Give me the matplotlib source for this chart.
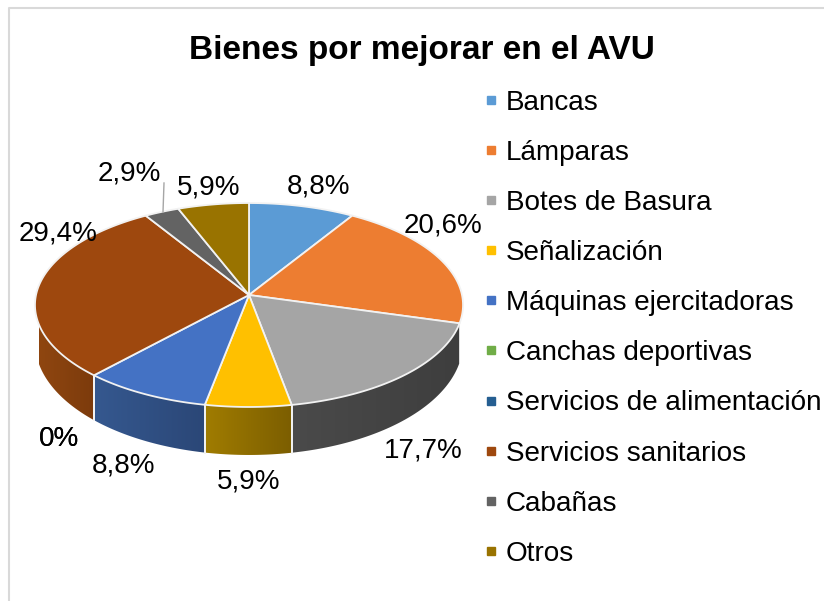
import matplotlib
matplotlib.use("Agg")
import matplotlib.pyplot as plt
import numpy as np
from matplotlib.colors import LinearSegmentedColormap
from matplotlib.lines import Line2D
from matplotlib.patches import Polygon

plt.rcParams["font.family"] = ["Liberation Sans", "DejaVu Sans"]

# Data
categories = [
    "Bancas", "Lámparas", "Botes de Basura", "Señalización",
    "Máquinas ejercitadoras", "Canchas deportivas",
    "Servicios de alimentación", "Servicios sanitarios", "Cabañas", "Otros",
]
values = [8.8, 20.6, 17.7, 5.9, 8.8, 0, 0, 29.4, 2.9, 5.9]
value_labels = ["8,8%", "20,6%", "17,7%", "5,9%", "8,8%", "0%", "0%", "29,4%", "2,9%", "5,9%"]

colors = ["#5b9bd5", "#ed7d31", "#a5a5a5", "#ffc000", "#4472c4",
          "#70ad47", "#255e91", "#9e480e", "#636363", "#997300"]
# wall shades, left and right end of each slice
side_left = ["#3f6d98", "#a85822", "#4a4a4a", "#a07c00", "#35588f",
             "#4f7a32", "#1a4266", "#8f4610", "#474747", "#6c5100"]
side_right = ["#3f6d98", "#a85822", "#3e3e3e", "#7c5e00", "#2b4777",
              "#4f7a32", "#1a4266", "#7c3b0c", "#474747", "#6c5100"]

# Layout, in image pixels
label_xy = [(319, 186.5), (443.5, 225.5), (423, 450.5), (249, 481.5), (124, 465.5),
            (59, 438.5), (59, 438.5), (58, 233.5), (129, 174), (209, 187)]
CX, CY = 249, 295
R, A, K = 213, 101, 0.098
WALL_FROM = -0.28  # the wall shows only below this cosine


def project(theta):
    """Map a clockwise angle on the pie rim to image pixels, far side smaller."""
    u, v = np.sin(theta), np.cos(theta)
    den = 1 + K * v
    return CX + R * u / den, CY - A * v / den


def wall_depth(theta):
    return 36 + 12 * -np.cos(theta)


fig = plt.figure(figsize=(8.24, 6.01), dpi=100)
ax = fig.add_axes([0, 0, 1, 1])
ax.set_xlim(0, 824)
ax.set_ylim(601, 0)
ax.set_autoscale_on(False)
ax.axis("off")

# Frame of the chart area
ax.plot([9, 9, 824], [601, 8, 8], color="#d9d9d9", lw=1.5, zorder=1)

edges = np.radians(np.cumsum([0] + values) * 3.6)

# Side wall: a horizontal gradient clipped to the shape of each slice
for i in range(len(values)):
    th = np.linspace(edges[i], edges[i + 1], 120)
    th = th[np.cos(th) <= WALL_FROM]
    if len(th) < 2:
        continue
    x, y = project(th)
    poly = Polygon(np.c_[np.r_[x, x[::-1]], np.r_[y, (y + wall_depth(th))[::-1]]],
                   transform=ax.transData, fc="none", ec="none")
    ax.add_patch(poly)
    cmap = LinearSegmentedColormap.from_list("wall", [side_left[i], side_right[i]])
    im = ax.imshow(np.linspace(0, 1, 64)[None, :], cmap=cmap, aspect="auto", zorder=2,
                   extent=(x.min(), x.max(), 500, 300), interpolation="bilinear")
    im.set_clip_path(poly)

# White seams on the wall
for e in edges:
    if np.cos(e) <= WALL_FROM:
        x0, y0 = project(e)
        ax.plot([x0, x0], [y0, y0 + wall_depth(e)], color="#f4f4f4", lw=1.4, zorder=3)

# Top of the pie
for i in range(len(values)):
    if values[i] == 0:
        continue
    x, y = project(np.linspace(edges[i], edges[i + 1], 120))
    ax.fill(np.r_[CX, x], np.r_[CY, y], facecolor=colors[i],
            edgecolor="#f2f2f2", lw=1.3, joinstyle="round", zorder=4)

# Value labels
for (lx, ly), lab in zip(label_xy, value_labels):
    ax.text(lx, ly, lab, fontsize=20, ha="center", va="center", color="black", zorder=6)

# Leader line of the Cabañas label
ax.plot([164, 163], [183, 212], color="#a6a6a6", lw=1, zorder=5)

ax.text(422, 59, "Bienes por mejorar en el AVU", fontsize=24, fontweight="bold",
        ha="center", va="baseline", color="black")

handles = [Line2D([], [], marker="s", ls="none", color=c, markersize=6) for c in colors]
ax.legend(handles, categories, loc="upper left", bbox_to_anchor=(479, 89.5),
          bbox_transform=ax.transData, frameon=False, fontsize=20.1,
          labelspacing=0.865, handletextpad=0.1, handlelength=0.85,
          borderpad=0, borderaxespad=0)

fig.savefig("out.png", dpi=100)
